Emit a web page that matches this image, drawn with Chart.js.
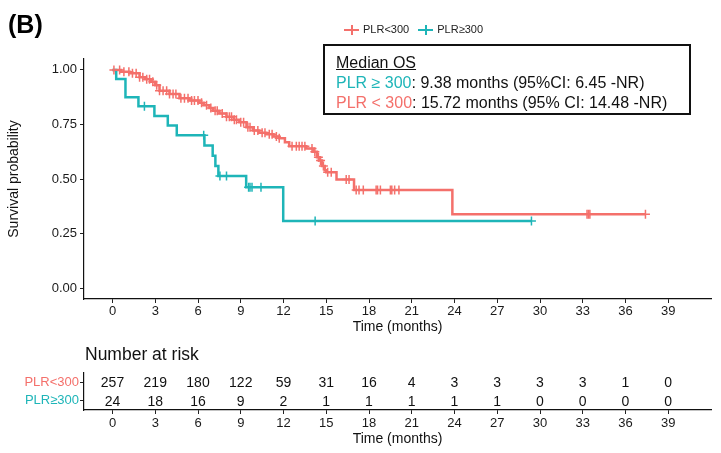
<!DOCTYPE html>
<html>
<head>
<meta charset="utf-8">
<title>Overall survival by PLR</title>
<script src="https://cdn.jsdelivr.net/npm/chart.js@4.4.1/dist/chart.umd.min.js"></script>
<style>
    body { margin: 0; background: #fff; font-family: "Liberation Sans", Arial, sans-serif; }
    #wrap { position: relative; width: 721px; height: 453px; overflow: hidden; }
    #main { position: absolute; left: 0; top: 0; }
    #risk { position: absolute; left: 0; top: 336px; }
    #panel { position: absolute; left: 8px; top: 10px; font-size: 25px; font-weight: bold; color: #000; }
    #legend { position: absolute; left: 344px; top: 23px; font-size: 11px; color: #222; white-space: nowrap; }
    #legend .item { display: inline-block; margin-right: 6px; }
    #legend .mark { display: inline-block; position: relative; width: 15px; height: 10px; vertical-align: middle; margin-right: 4px; }
    #legend .mark:before { content: ""; position: absolute; left: 0; top: 4px; width: 15px; height: 2px; background: currentColor; }
    #legend .mark:after { content: ""; position: absolute; left: 6.5px; top: 0; width: 2px; height: 10px; background: currentColor; }
    #median { position: absolute; left: 323px; top: 44px; width: 353px; height: 67px; border: 2px solid #111; font-size: 16px; line-height: 20px; color: #111; padding: 0 0 0 11px; box-sizing: content-box; white-space: nowrap; }
    #median .l1 { margin-top: 7px; text-decoration: underline; }
</style>
</head>
<body>
<div id="wrap">
    <canvas id="main" width="721" height="336"></canvas>
    <canvas id="risk" width="721" height="117"></canvas>
    <div id="panel">(B)</div>
    <div id="legend">
        <span class="item" style="color:#F4706B"><span class="mark"></span><span style="color:#222">PLR&lt;300</span></span>
        <span class="item" style="color:#1EB5B8"><span class="mark"></span><span style="color:#222">PLR≥300</span></span>
    </div>
    <div id="median">
        <div class="l1">Median OS</div>
        <div><span style="color:#1EB5B8">PLR ≥ 300</span>: 9.38 months (95%CI: 6.45 -NR)</div>
        <div><span style="color:#F4706B">PLR &lt; 300</span>: 15.72 months (95% CI: 14.48 -NR)</div>
    </div>
</div>
<script>
const RED = '#F4706B';
const TEAL = '#1EB5B8';
const FONT = "'Liberation Sans', Arial, sans-serif";

const groupNames = ['PLR<300', 'PLR≥300'];
const monthTicks = [0, 3, 6, 9, 12, 15, 18, 21, 24, 27, 30, 33, 36, 39];
const survTicks = [0, 0.25, 0.5, 0.75, 1];

// KM steps: time of drop, survival after the drop
const lowTimes = [0, 0.6, 1.2, 1.9, 2.3, 2.7, 3.0, 3.3, 4.0, 4.7, 5.4, 6.1, 6.4, 6.8, 7.05, 7.5, 8.0, 8.5, 8.9, 9.4, 9.85, 10.3, 10.8, 11.3, 11.7, 12.1, 12.4, 13.6, 14.1, 14.35, 14.5, 14.7, 14.9, 15.0, 15.72, 16.95, 23.85, 37.4];
const lowSurv = [1, 0.992, 0.985, 0.966, 0.957, 0.946, 0.93, 0.905, 0.89, 0.87, 0.86, 0.849, 0.838, 0.825, 0.813, 0.80, 0.785, 0.772, 0.76, 0.737, 0.722, 0.712, 0.705, 0.695, 0.687, 0.668, 0.65, 0.64, 0.625, 0.60, 0.585, 0.56, 0.54, 0.531, 0.498, 0.45, 0.339, 0.339];
const highTimes = [0, 0.26, 0.91, 1.82, 2.94, 3.88, 4.51, 6.45, 7.03, 7.22, 7.43, 9.38, 11.98, 29.4];
const highSurv = [1, 0.958, 0.875, 0.833, 0.789, 0.745, 0.701, 0.654, 0.607, 0.56, 0.514, 0.462, 0.308, 0.308];

// censoring times
const lowCensor = [0.1, 0.5, 0.8, 1.15, 1.4, 1.66, 1.9, 2.13, 2.4, 2.6, 2.83, 3.1, 3.3, 3.55, 3.8, 4.0, 4.25, 4.45, 4.8, 5.05, 5.3, 5.55, 5.75, 6.0, 6.25, 6.6, 6.9, 7.2, 7.35, 7.7, 8.0, 8.2, 8.35, 8.55, 8.7, 9.0, 9.2, 9.5, 9.65, 9.95, 10.2, 10.5, 10.7, 11.0, 11.2, 11.5, 11.7, 12.6, 12.9, 13.1, 13.3, 13.5, 14.0, 14.2, 14.45, 14.6, 14.8, 15.1, 15.35, 16.4, 16.6, 17.1, 17.3, 17.6, 18.5, 18.6, 18.8, 19.5, 19.6, 19.8, 20.1, 33.3, 33.4, 33.5, 37.4];
const highCensor = [2.24, 6.4, 7.54, 8.0, 9.55, 9.65, 9.79, 10.42, 14.22, 29.4];

// number at risk
const riskLow = [257, 219, 180, 122, 59, 31, 16, 4, 3, 3, 3, 3, 1, 0];
const riskHigh = [24, 18, 16, 9, 2, 1, 1, 1, 1, 1, 0, 0, 0, 0];

let toPoints = function(times, surv) {
    return times.map(function(t, i) { return {x: t, y: surv[i]}; });
};

let survAt = function(times, surv, t) {
    let s = surv[0];
    for (let i = 0; i < times.length; i++) {
        if (times[i] <= t) s = surv[i];
    }
    return s;
};

let censorPoints = function(cens, times, surv) {
    return cens.map(function(t) { return {x: t, y: survAt(times, surv, t)}; });
};

let tickFont = {family: FONT, size: 13};
let xAxis = function(height, tickPad, titlePad) {
    return {
        type: 'linear', min: -2, max: 42,
        afterBuildTicks: function(s) { s.ticks = monthTicks.map(function(v) { return {value: v}; }); },
        afterFit: function(s) { s.height = height; },
        ticks: {font: tickFont, color: '#1a1a1a', padding: tickPad, maxRotation: 0, autoSkip: false,
            callback: function(v) { return v; }},
        grid: {drawOnChartArea: false, drawTicks: true, tickLength: 4, color: '#222', tickWidth: 1},
        border: {display: true, color: '#111', width: 1.2},
        title: {display: true, text: 'Time (months)', font: {family: FONT, size: 14}, color: '#111',
            padding: {top: 0, bottom: titlePad}}
    };
};

new Chart(document.getElementById('main'), {
    type: 'scatter',
    data: {
        datasets: [
            {label: groupNames[0], data: toPoints(lowTimes, lowSurv), showLine: true, stepped: true,
                borderColor: RED, borderWidth: 2.5, pointRadius: 0, fill: false, order: 3},
            {label: groupNames[1], data: toPoints(highTimes, highSurv), showLine: true, stepped: true,
                borderColor: TEAL, borderWidth: 2.5, pointRadius: 0, fill: false, order: 2},
            {label: 'censor low', data: censorPoints(lowCensor, lowTimes, lowSurv), showLine: false,
                pointStyle: 'cross', pointRadius: 4.5, borderColor: RED, backgroundColor: RED, borderWidth: 1.5, order: 1},
            {label: 'censor high', data: censorPoints(highCensor, highTimes, highSurv), showLine: false,
                pointStyle: 'cross', pointRadius: 4.5, borderColor: TEAL, backgroundColor: TEAL, borderWidth: 1.5, order: 0}
        ]
    },
    options: {
        responsive: false,
        animation: false,
        layout: {padding: {left: 0, right: 10, top: 59, bottom: 0}},
        plugins: {legend: {display: false}, tooltip: {enabled: false}},
        scales: {
            x: xAxis(37, 1, 0),
            y: {
                type: 'linear', min: -0.05, max: 1.05,
                afterBuildTicks: function(s) { s.ticks = survTicks.map(function(v) { return {value: v}; }); },
                afterFit: function(s) { s.width = 84; },
                ticks: {font: tickFont, color: '#1a1a1a', padding: 3,
                    callback: function(v) { return Number(v).toFixed(2); }},
                grid: {drawOnChartArea: false, drawTicks: true, tickLength: 4, color: '#222', tickWidth: 1},
                border: {display: true, color: '#111', width: 1.2},
                title: {display: true, text: 'Survival probability', font: {family: FONT, size: 14}, color: '#111',
                    padding: {top: 6, bottom: 0}}
            }
        }
    }
});

// risk table: numbers written at the library's point positions
let riskLabels = {
    id: 'riskLabels',
    afterDatasetsDraw: function(chart) {
        let ctx = chart.ctx;
        ctx.save();
        ctx.fillStyle = '#111';
        ctx.font = "14px " + FONT;
        ctx.textAlign = 'center';
        ctx.textBaseline = 'middle';
        chart.data.datasets.forEach(function(ds, di) {
            chart.getDatasetMeta(di).data.forEach(function(pt, i) {
                ctx.fillText(String(ds.counts[i]), pt.x, pt.y + 1);
            });
        });
        ctx.font = "17.5px " + FONT;
        ctx.textAlign = 'left';
        ctx.fillText('Number at risk', chart.chartArea.left + 1, 19);
        ctx.restore();
    }
};

new Chart(document.getElementById('risk'), {
    type: 'scatter',
    data: {
        datasets: [
            {label: groupNames[0], counts: riskLow,
                data: monthTicks.map(function(t) { return {x: t, y: groupNames[0]}; }), pointRadius: 0},
            {label: groupNames[1], counts: riskHigh,
                data: monthTicks.map(function(t) { return {x: t, y: groupNames[1]}; }), pointRadius: 0}
        ]
    },
    options: {
        responsive: false,
        animation: false,
        layout: {padding: {left: 0, right: 10, top: 37, bottom: 0}},
        plugins: {legend: {display: false}, tooltip: {enabled: false}},
        scales: {
            x: xAxis(43, 2, 5),
            y: {
                type: 'category', labels: groupNames, offset: true,
                afterFit: function(s) { s.width = 84; },
                ticks: {font: tickFont, padding: 1, autoSkip: false,
                    color: function(c) { return c.index === 0 ? RED : TEAL; }},
                grid: {drawOnChartArea: false, drawTicks: true, tickLength: 4, color: '#222', tickWidth: 1, offset: false},
                border: {display: true, color: '#111', width: 1.2}
            }
        }
    },
    plugins: [riskLabels]
});
</script>
</body>
</html>
